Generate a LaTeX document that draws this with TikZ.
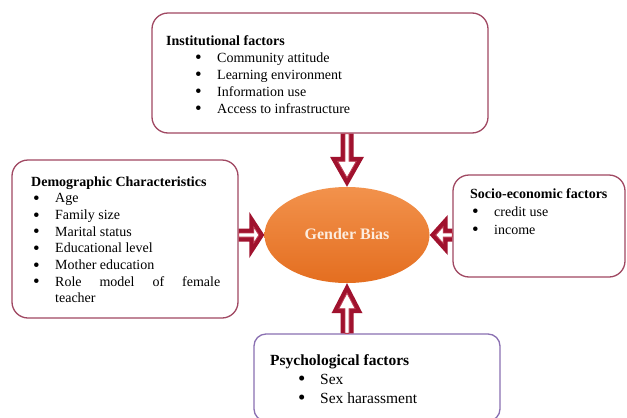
\documentclass[tikz,border=0pt]{standalone}
\usepackage{fontspec}
\setmainfont{Liberation Serif}
\usepackage{xcolor}
\usepackage{tikz}
\usetikzlibrary{shapes,arrows,positioning,calc}

\definecolor{boxred}{RGB}{160,72,98}
\definecolor{psyline}{RGB}{138,112,178}
\definecolor{arrowred}{RGB}{160,18,46}
\definecolor{innerred}{RGB}{190,60,82}
\definecolor{biastop}{RGB}{242,146,76}
\definecolor{biasbot}{RGB}{228,110,32}
\definecolor{biastext}{RGB}{252,236,222}

\newcommand{\itm}[1]{\makebox[22pt][l]{\raisebox{-1.7pt}{\scalebox{1.35}{\textbullet}}}#1}

% hollow block arrow: start, tip, head length, head half width
\newcommand{\fatarrow}[4]{%
  \pgfmathsetmacro{\fahyp}{sqrt(#3*#3+#4*#4)}
  \pgfmathsetmacro{\faback}{4.5*\fahyp/#4}
  \pgfmathsetmacro{\fainlen}{#3-4.5-\faback}
  \pgfmathsetmacro{\fainw}{#4*(#3-4.5)/#3-4.5*\fahyp/#3}
  \coordinate (fa-h) at ($(#2)!#3pt!(#1)$);
  \coordinate (fa-e) at ($(#2)!\faback pt!(#1)$);
  \coordinate (fa-i) at ($(fa-e)!\fainlen pt!(#1)$);
  \fill[arrowred] ($(#1)!6.5pt!90:(#2)$) -- ($(fa-h)!6.5pt!90:(#2)$) -- ($(fa-h)!#4pt!90:(#2)$) -- (#2)
    -- ($(fa-h)!#4pt!-90:(#2)$) -- ($(fa-h)!6.5pt!-90:(#2)$) -- ($(#1)!6.5pt!-90:(#2)$) -- cycle;
  \filldraw[fill=white, draw=innerred, line width=0.8pt] ($(#1)!2pt!90:(#2)$) -- ($(fa-i)!2pt!90:(#2)$)
    -- ($(fa-i)!\fainw pt!90:(#2)$) -- (fa-e) -- ($(fa-i)!\fainw pt!-90:(#2)$) -- ($(fa-i)!2pt!-90:(#2)$)
    -- ($(#1)!2pt!-90:(#2)$) -- cycle;
}

\tikzset{
  factorbox/.style={draw=boxred, line width=1.3pt, rounded corners=16pt, inner sep=0pt, fill=white},
  listtext/.style={anchor=base west, inner sep=0pt}
}

\begin{document}
\begin{tikzpicture}[x=1pt,y=-1pt]
\fill[white] (0,0) rectangle (627,418);
\useasboundingbox (0,0) rectangle (627,418);

% factor boxes
\node[factorbox, minimum width=336pt, minimum height=120pt] (inst) at (320,73) {};
\node[factorbox, minimum width=226pt, minimum height=158pt] (dem) at (125,239) {};
\node[factorbox, minimum width=172pt, minimum height=102pt] (soc) at (539,226) {};
\node[factorbox, draw=psyline, rounded corners=12pt, minimum width=246pt, minimum height=87pt] (psy) at (377,377.5) {};

% centre
\node[ellipse, minimum width=165pt, minimum height=96pt, inner sep=0pt, top color=biastop, bottom color=biasbot,
  text=biastext, font=\fontsize{16}{19}\selectfont\bfseries] (bias) at (347,235) {\raisebox{3pt}{Gender Bias}};

% box texts
\node[listtext, font=\fontsize{14}{17}\selectfont] (insttext) at (166,45) {\begin{tabular}[t]{@{}l@{}}
\textbf{Institutional factors}\\
\hspace{29pt}\itm{Community attitude}\\
\hspace{29pt}\itm{Learning environment}\\
\hspace{29pt}\itm{Information use}\\
\hspace{29pt}\itm{Access to infrastructure}
\end{tabular}};

\node[listtext, font=\fontsize{14}{16.7}\selectfont] (demtext) at (31,186) {\begin{tabular}[t]{@{}l@{}}
\textbf{Demographic Characteristics}\\
\hspace{2pt}\itm{Age}\\
\hspace{2pt}\itm{Family size}\\
\hspace{2pt}\itm{Marital status}\\
\hspace{2pt}\itm{Educational level}\\
\hspace{2pt}\itm{Mother education}\\
\hspace{2pt}\itm{\parbox[t]{165pt}{Role model of female\linebreak teacher}}
\end{tabular}};

\node[listtext, font=\fontsize{14}{18}\selectfont] (soctext) at (470,198) {\begin{tabular}[t]{@{}l@{}}
\textbf{Socio-economic factors}\\
\hspace{2pt}\itm{credit use}\\
\hspace{2pt}\itm{income}
\end{tabular}};

\node[listtext, font=\fontsize{15.5}{19}\selectfont] (psytext) at (270,365) {\begin{tabular}[t]{@{}l@{}}
\textbf{Psychological factors}\\
\hspace{28pt}\itm{Sex}\\
\hspace{28pt}\itm{Sex harassment}
\end{tabular}};

% arrows into the centre
\coordinate (topS) at (bias.north |- inst.south);
\coordinate (leftS) at (dem.east |- bias.west);
\coordinate (rightS) at (soc.west |- bias.east);
\coordinate (botS) at (bias.south |- psy.north);
\fatarrow{topS}{bias.north}{30}{17}
\fatarrow{leftS}{bias.west}{15}{23}
\fatarrow{rightS}{bias.east}{18}{20}
\fatarrow{botS}{bias.south}{30}{15.5}
\end{tikzpicture}
\end{document}
